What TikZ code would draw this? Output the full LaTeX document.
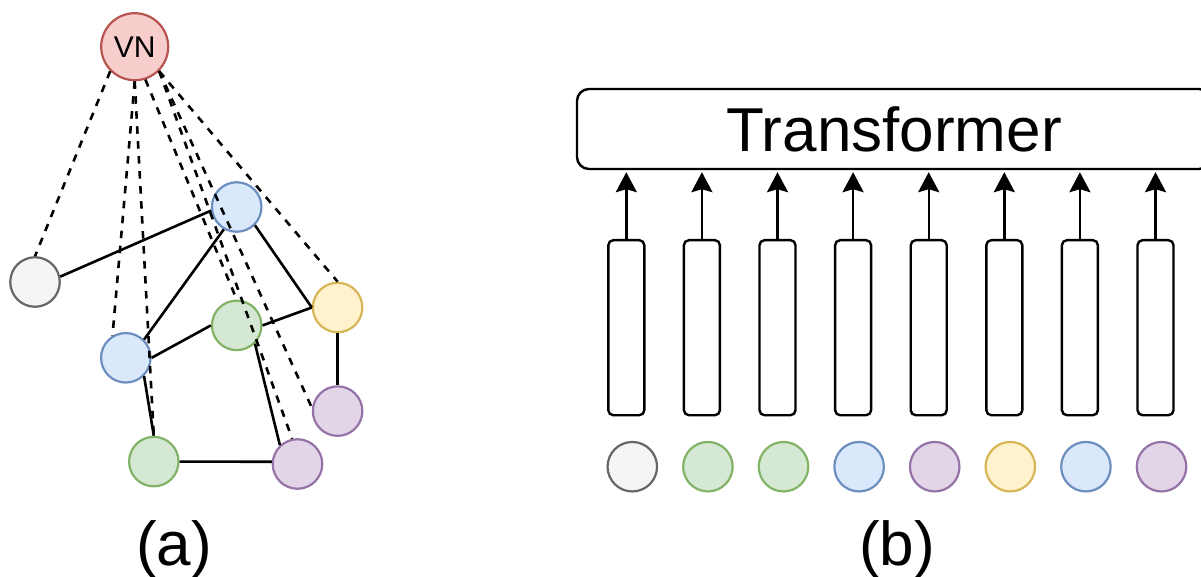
\documentclass[tikz,border=0pt]{standalone}
\usepackage{fontspec}
\setmainfont{Liberation Sans}
\usetikzlibrary{arrows.meta}
\definecolor{fgray}{HTML}{F5F5F5}\definecolor{dgray}{HTML}{666666}
\definecolor{fgreen}{HTML}{D5E8D4}\definecolor{dgreen}{HTML}{82B366}
\definecolor{fblue}{HTML}{DAE8FC}\definecolor{dblue}{HTML}{6C8EBF}
\definecolor{fpurple}{HTML}{E1D5E7}\definecolor{dpurple}{HTML}{9673A6}
\definecolor{fyellow}{HTML}{FFF2CC}\definecolor{dyellow}{HTML}{D6B656}
\definecolor{fred}{HTML}{F8CECC}\definecolor{dred}{HTML}{B85450}
\begin{document}
\begin{tikzpicture}[x=1pt,y=-1pt,
  gnode/.style={circle, line width=2.2pt, minimum size=49.5pt, inner sep=0pt},
  colnode/.style={gnode, fill=f#1, draw=d#1},
  vlink/.style={line width=2.6pt, dash pattern=on 7.5pt off 7.5pt},
  elink/.style={line width=2.6pt},
  tokbar/.style={draw, line width=2.4pt, rounded corners=5pt, minimum width=36pt, minimum height=175pt, inner sep=0pt},
  arr/.style={line width=2.4pt, shorten >=2pt, -{Stealth[length=20pt,width=21pt,inset=3pt]}},
  lbl/.style={font=\fontsize{62}{70}\selectfont, anchor=base, inner sep=0pt}]
\useasboundingbox (0,0) rectangle (1201,577);
\clip (0,0) rectangle (1201,577);

% ---------- (a) graph ----------
\node[gnode, fill=fred, draw=dred, minimum size=67pt, font=\fontsize{30}{34}\selectfont] (VN) at (134.7,46.7) {VN};
\node[colnode=gray]   (gr) at (35,282) {};
\node[colnode=blue]   (bt) at (236.7,207) {};
\node[colnode=yellow] (ye) at (337.6,307.5) {};
\node[colnode=green]  (gm) at (236.7,325.4) {};
\node[colnode=blue]   (bl) at (125.8,357.8) {};
\node[colnode=purple] (pr) at (337.6,411.1) {};
\node[colnode=green]  (gb) at (153.8,461.6) {};
\node[colnode=purple] (pb) at (297.5,464) {};

\draw[elink] (gr.12) -- (bt.188);
\draw[elink] (bt.240) -- (bl.45);
\draw[elink] (bt.315) -- (ye.180);
\draw[elink] (bl.0) -- (gm.180);
\draw[elink] (gm.0) -- (ye.180);
\draw[elink] (ye.south) -- (pr.north);
\draw[elink] (bl.315) -- (gb.north);
\draw[elink] (gb.east) -- (pb.175);
\draw[elink] (gm.315) -- (pb.133);

\draw[vlink] (VN.225) -- (gr.north);
\draw[vlink] (VN.270) -- (bl.121);
\draw[vlink] (VN.270) -- (gb.north);
\draw[vlink] (VN.288) -- (gm.north);
\draw[vlink] (VN.315) -- (pb.102);
\draw[vlink] (VN.315) -- (pr.173);
\draw[vlink] (VN.315) -- (ye.north);

\node[lbl] (la) at (174,565) {(a)};

% ---------- (b) transformer ----------
\node[draw, line width=2.4pt, rounded corners=12pt, minimum width=634pt, minimum height=80pt, inner sep=0pt, font=\fontsize{62}{70}\selectfont] (T) at (894,129) {Transformer};

\foreach \col [count=\i] in {gray,green,green,blue,purple,yellow,blue,purple} {
  \pgfmathsetmacro\xb{626.3+75.6*(\i-1)}
  \pgfmathsetmacro\xc{632.3+75.6*(\i-1)}
  \node[tokbar] (b\i) at (\xb,327.7) {};
  \node[colnode=\col] (c\i) at (\xc,466.7) {};
  \draw[arr] (b\i.north) -- (b\i.north |- T.south);
}

\node[lbl] (lb) at (897,565) {(b)};
\end{tikzpicture}
\end{document}
